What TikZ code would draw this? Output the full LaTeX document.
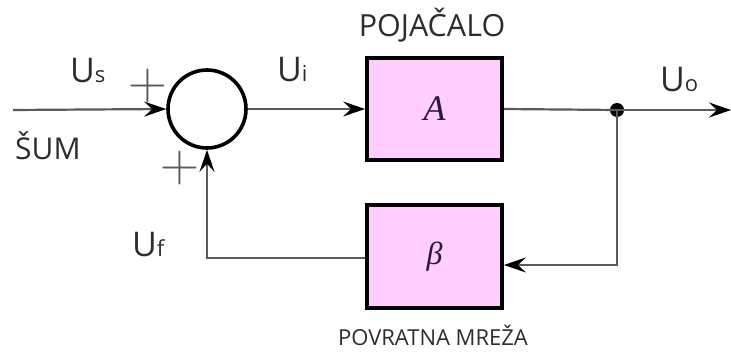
\documentclass[tikz,border=0pt]{standalone}
\usepackage{fontspec}
\setmainfont{Open Sans}
\newfontfamily\symfont{Liberation Serif}
\newfontfamily\plusfont{Latin Modern Roman}
\usetikzlibrary{arrows.meta}
\definecolor{boxpink}{RGB}{255,206,255}
\definecolor{wire}{RGB}{90,90,90}
\definecolor{txt}{RGB}{45,45,45}
\definecolor{sym}{RGB}{45,25,60}
\newcommand\bigU[1]{{\fontsize{34}{34}\selectfont U}{\fontsize{22}{22}\selectfont #1}}
\tikzset{
  blockbox/.style={draw=black, line width=3.8pt, fill=boxpink, minimum width=135pt, minimum height=102pt, inner sep=0pt},
  sumnode/.style={draw=black, line width=3.6pt, circle, minimum size=78pt, inner sep=0pt},
  wireline/.style={draw=wire, line width=2.2pt},
  tip/.style={-{Stealth[length=22pt,width=15pt,inset=8pt,color=black]}},
  lbl/.style={inner sep=0pt, text=txt},
  plus/.style={inner sep=0pt, text=wire, font=\plusfont\fontsize{54}{54}\selectfont},
  symtext/.style={text=sym, font=\symfont\itshape}
}
\begin{document}
\begin{tikzpicture}[x=1pt,y=-1pt]
\useasboundingbox (0,0) rectangle (731,358);
\node[sumnode] (sum) at (207,109) {};
\node[blockbox, symtext] (A) at (434.5,109) {\fontsize{36}{36}\selectfont A};
\node[blockbox, symtext, minimum height=103pt] (B) at (434.5,256.5) {\fontsize{32}{32}\selectfont β};
\coordinate (in) at (13,110);
\coordinate (out) at (731,110);
\node[circle, fill=black, inner sep=0pt, minimum size=14pt] (dot) at (617,110) {};
\coordinate (c1) at (617,265);
\coordinate (c2) at (207,258);
% connectors
\draw[wireline, tip] (in) -- (sum.west);
\draw[wireline, tip] (sum.east) -- (A.west);
\draw[wireline] (A.east) -- (dot.center);
\draw[wireline, tip] (dot.center) -- (out);
\draw[wireline, tip] (dot.center) -- (c1) -- (B.east |- c1);
\draw[wireline, tip] (B.west |- c2) -- (c2) -- (sum.south);
% labels
\node[lbl, anchor=base west] (us) at (70,83) {\bigU{s}};
\node[lbl, anchor=base west] (sumlbl) at (15,160) {\fontsize{30}{30}\selectfont ŠUM};
\node[lbl, anchor=base west] (ui) at (277,82) {\bigU{i}};
\node[lbl, anchor=base west] (uo) at (660,92) {\bigU{o}};
\node[lbl, anchor=base west] (uf) at (132,257) {\bigU{f}};
\node[lbl, anchor=base] (poj) at (432,37) {\fontsize{30.5}{30.5}\selectfont POJAČALO};
\node[lbl, anchor=base] (pov) at (433,345) {\fontsize{22}{22}\selectfont POVRATNA MREŽA};
\node[plus] (p1) at (148,86) {+};
\node[plus] (p2) at (180,168) {+};
\end{tikzpicture}
\end{document}
